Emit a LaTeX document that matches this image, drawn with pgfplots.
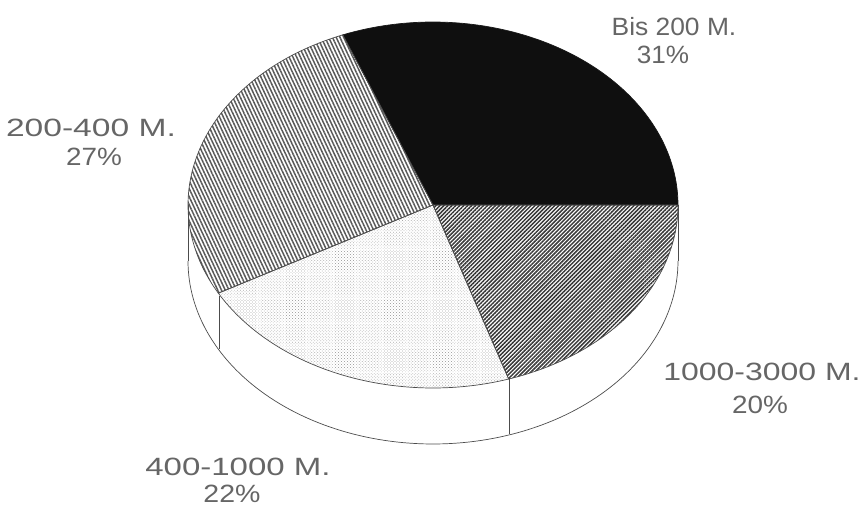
\documentclass[border=0pt]{standalone}
\usepackage{fontspec}
\setmainfont[FakeStretch=1.2]{Liberation Sans}
\usepackage{pgfplots}
\pgfplotsset{compat=1.18}
\usetikzlibrary{patterns.meta}
\definecolor{edge}{gray}{0.3}
\definecolor{labeltext}{gray}{0.4}
% Slice boundaries in degrees on the ellipse, from the shares 31, 27, 22, 20 percent
\pgfmathsetmacro{\angA}{31*3.6}
\pgfmathsetmacro{\angB}{\angA+27*3.6}
\pgfmathsetmacro{\angC}{\angB+22*3.6}
\pgfmathsetmacro{\angD}{\angC+20*3.6}
\newcommand{\Rx}{245}
\newcommand{\Ry}{183}
\newcommand{\Cx}{433}
\newcommand{\Cy}{302}
\newcommand{\Depth}{56}
\newcommand{\slice}[3]{%
  \addplot[#1, line width=0.7pt, domain=#2:#3, samples=80]
    ({\Cx+\Rx*cos(x)},{\Cy+\Ry*sin(x)}) -- (axis cs:\Cx,\Cy) -- cycle;}
\begin{document}
\begin{tikzpicture}
\begin{axis}[
  scale only axis, width=863pt, height=507pt,
  xmin=0, xmax=863, ymin=0, ymax=507,
  hide axis, clip=false,
  nodes={font=\fontsize{25}{27}\selectfont, text=labeltext, align=center, inner sep=0pt},
]
% page extent
\path (axis cs:0,0) rectangle (axis cs:863,507);
% rim of the disc
\addplot[draw=edge, line width=0.7pt, domain=180:360, samples=120]
  ({\Cx+\Rx*cos(x)},{\Cy-\Depth+\Ry*sin(x)});
\addplot[draw=edge, line width=0.7pt] coordinates {(188,302) (188,246)};
\addplot[draw=edge, line width=0.7pt] coordinates {(678,302) (678,246)};
\addplot[draw=edge, line width=0.7pt] coordinates {(219,211) (219,158)};
\addplot[draw=edge, line width=0.7pt] coordinates {(509,129) (509,73)};
% top face
\slice{draw=black!90, fill=black!94}{0}{\angA}
\slice{draw=edge, pattern={Lines[angle=-65,distance=3.4pt,line width=1.5pt]}, pattern color=black!65}{\angA}{\angB}
\slice{draw=edge, pattern={Dots[angle=45,distance=2.1pt,radius=0.5pt]}, pattern color=black!35}{\angB}{\angC}
\slice{draw=edge, pattern={Lines[angle=45,distance=2.8pt,line width=1.5pt]}, pattern color=black!78}{\angC}{\angD}
% labels
\node[xscale=0.88] at (axis cs:674,480) {Bis 200 M.};
\node[xscale=0.87] at (axis cs:663,452) {31\%};
\node[xscale=1.12] at (axis cs:91,379) {200-400 M.};
\node[xscale=0.93] at (axis cs:94,350) {27\%};
\node[xscale=1.065] at (axis cs:762,135) {1000-3000 M.};
\node[xscale=0.93] at (axis cs:760,102) {20\%};
\node[xscale=1.1] at (axis cs:238,40) {400-1000 M.};
\node[xscale=0.95] at (axis cs:232,13) {22\%};
\end{axis}
\end{tikzpicture}
\end{document}
